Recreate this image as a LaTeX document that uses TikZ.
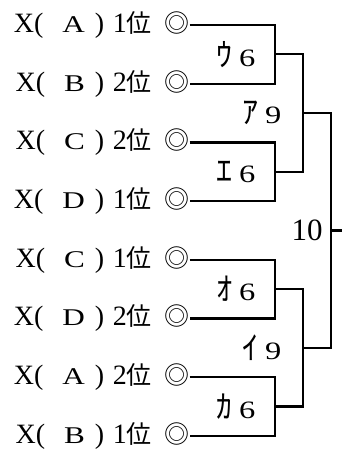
\documentclass[tikz,border=0pt]{standalone}
\usepackage{fontspec}
\setmainfont{Liberation Serif}
\newfontfamily\jp{Noto Sans CJK JP}
% X(group) rank, then the mark
\newcommand{\seed}[2]{X(\hspace{19pt}\scalebox{1.3}[1]{\fontsize{24}{24}\selectfont #1}\hspace{10pt})\hspace{8.5pt}#2{\jp\fontsize{25}{25}\selectfont 位\hspace{12.5pt}◎}}
\newcommand{\game}[2]{{\jp\fontsize{32}{32}\selectfont #1}\hspace{7pt}\scalebox{1.3}[1]{#2}}
\begin{document}
\begin{tikzpicture}[x=1pt,y=-1pt,
  team/.style={anchor=east, inner sep=0pt, font=\fontsize{28}{28}\selectfont},
  score/.style={anchor=west, inner sep=0pt, font=\fontsize{25}{25}\selectfont},
  bracket/.style={line width=2.2pt}]
\useasboundingbox (0,0) rectangle (342,450);

\node[team] (t1) at (189.5,25)    {\seed{A}{1}};
\node[team] (t2) at (189.5,83.7)  {\seed{B}{2}};
\node[team] (t3) at (189.5,142.4) {\seed{C}{2}};
\node[team] (t4) at (189.5,201.1) {\seed{D}{1}};
\node[team] (t5) at (189.5,259.8) {\seed{C}{1}};
\node[team] (t6) at (189.5,318.5) {\seed{D}{2}};
\node[team] (t7) at (189.5,377.2) {\seed{A}{2}};
\node[team] (t8) at (189.5,435.9) {\seed{B}{1}};

% first round
\coordinate (j1) at (275,54.35);
\coordinate (j2) at (275,171.75);
\coordinate (j3) at (275,289.15);
\coordinate (j4) at (275,406.55);
\draw[bracket] (t1.east) -| (j1) |- (t2.east);
\draw[bracket] (t3.east) -| (j2) |- (t4.east);
\draw[bracket] (t5.east) -| (j3) |- (t6.east);
\draw[bracket] (t7.east) -| (j4) |- (t8.east);

% second round
\coordinate (k1) at (303,113.05);
\coordinate (k2) at (303,347.85);
\draw[bracket] (j1) -| (k1) |- (j2);
\draw[bracket] (j3) -| (k2) |- (j4);

% final
\coordinate (f) at (331,230.45);
\coordinate (win) at (342,230.45);
\draw[bracket] (k1) -| (f) |- (k2);
\draw[bracket] (f) -- (win);

\node[score] (m1) at (216,54.35)  {\game{ｳ}{6}};
\node[score] (m2) at (216,171.75) {\game{ｴ}{6}};
\node[score] (m3) at (216,289.15) {\game{ｵ}{6}};
\node[score] (m4) at (216,406.55) {\game{ｶ}{6}};
\node[score] (s1) at (242,113.05) {\game{ｱ}{9}};
\node[score] (s2) at (242,347.85) {\game{ｲ}{9}};
\node[score, anchor=center, font=\fontsize{31}{31}\selectfont] (fin) at (307,230.45) {10};

\end{tikzpicture}
\end{document}
